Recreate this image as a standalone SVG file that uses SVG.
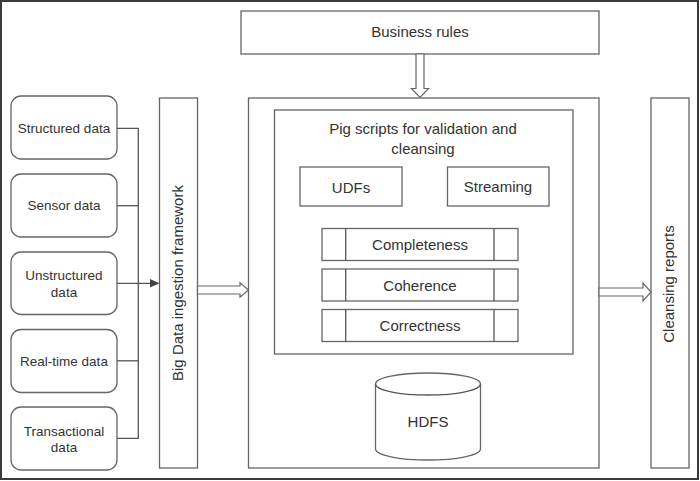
<svg xmlns="http://www.w3.org/2000/svg" width="700" height="481" viewBox="0 0 700 481">
<style>
.box{fill:#fff;stroke:#666;stroke-width:1.3}
.src{fill:#fff;stroke:#666;stroke-width:1.3}
.t{font-family:"Liberation Sans",Arial,sans-serif;font-size:15px;fill:#333;text-anchor:middle}
.s{font-size:13.5px}
.ln{fill:none;stroke:#555;stroke-width:1.3}
.ha{fill:#fff;stroke:#666;stroke-width:1.2;stroke-linejoin:miter}
</style>
<rect x="0" y="0" width="700" height="481" fill="#fff"/>
<rect x="1" y="1" width="697" height="478" fill="none" stroke="#3a3a3a" stroke-width="2"/>

<g id="business-rules">
<rect class="box" x="241" y="11" width="358" height="43"/>
<text class="t" x="420" y="37">Business rules</text>
</g>

<g id="main-box">
<rect class="box" x="248.5" y="98" width="350.5" height="370"/>
</g>

<g id="pig-scripts">
<rect class="box" x="274.5" y="110" width="298.5" height="244"/>
<text class="t" x="423" y="133.5">Pig scripts for validation and</text>
<text class="t" x="423" y="153.5">cleansing</text>
</g>

<g id="udfs">
<rect class="box" x="300" y="167" width="102" height="39"/>
<text class="t" x="351" y="192.5">UDFs</text>
</g>

<g id="streaming">
<rect class="box" x="447.5" y="167" width="101.5" height="39"/>
<text class="t" x="498" y="192">Streaming</text>
</g>

<g id="completeness">
<rect class="box" x="322" y="228.5" width="196" height="32"/>
<line class="ln" x1="345.7" y1="228.5" x2="345.7" y2="260.5"/>
<line class="ln" x1="494" y1="228.5" x2="494" y2="260.5"/>
<text class="t" x="420" y="249.5">Completeness</text>
</g>

<g id="coherence">
<rect class="box" x="322" y="269" width="196" height="32"/>
<line class="ln" x1="345.7" y1="269" x2="345.7" y2="301"/>
<line class="ln" x1="494" y1="269" x2="494" y2="301"/>
<text class="t" x="420" y="290.5">Coherence</text>
</g>

<g id="correctness">
<rect class="box" x="322" y="309.5" width="196" height="32"/>
<line class="ln" x1="345.7" y1="309.5" x2="345.7" y2="341.5"/>
<line class="ln" x1="494" y1="309.5" x2="494" y2="341.5"/>
<text class="t" x="420" y="330.8">Correctness</text>
</g>

<g id="hdfs">
<path class="box" d="M375.5,384 A52.5,11 0 0 1 480.5,384 V449 A52.5,11 0 0 1 375.5,449 Z"/>
<path class="ln" d="M375.5,384 A52.5,11 0 0 0 480.5,384" stroke="#666"/>
<text class="t" x="428" y="427">HDFS</text>
</g>

<g id="big-data-framework">
<rect class="box" x="159.5" y="98" width="38" height="370"/>
<text class="t" transform="translate(183,283) rotate(-90)">Big Data ingestion framework</text>
</g>

<g id="cleansing-reports">
<rect class="box" x="651" y="98" width="38" height="370"/>
<text class="t" transform="translate(674,284) rotate(-90)">Cleansing reports</text>
</g>

<g id="structured-data">
<rect class="src" x="11" y="96" width="106" height="63" rx="10"/>
<text class="t s" x="64" y="132.5">Structured data</text>
</g>
<g id="sensor-data">
<rect class="src" x="11" y="174" width="106" height="63" rx="10"/>
<text class="t s" x="64" y="210.3">Sensor data</text>
</g>
<g id="unstructured-data">
<rect class="src" x="11" y="252" width="106" height="62.5" rx="10"/>
<text class="t s" x="64" y="280">Unstructured</text>
<text class="t s" x="64" y="296.5">data</text>
</g>
<g id="real-time-data">
<rect class="src" x="11" y="329.5" width="106" height="63" rx="10"/>
<text class="t s" x="64" y="365.8">Real-time data</text>
</g>
<g id="transactional-data">
<rect class="src" x="11" y="407" width="106" height="63" rx="10"/>
<text class="t s" x="64" y="435.5">Transactional</text>
<text class="t s" x="64" y="451.5">data</text>
</g>

<g id="connectors">
<path class="ln" d="M117,128.3 H138.3 V438.3 H117"/>
<path class="ln" d="M117,205.7 H138.3"/>
<path class="ln" d="M117,360.8 H138.3"/>
<path class="ln" d="M117,283.3 H151"/>
<polygon points="150,279 159.5,283.3 150,287.6" fill="#444"/>
<polygon class="ha" points="416,54 424,54 424,88.5 428.5,88.5 420,97.5 411.5,88.5 416,88.5"/>
<polygon class="ha" points="197.5,286 240,286 240,282.7 248.5,290 240,297.3 240,294 197.5,294"/>
<polygon class="ha" points="599,288 643,288 643,283 651,292 643,301 643,296 599,296"/>
</g>
</svg>
